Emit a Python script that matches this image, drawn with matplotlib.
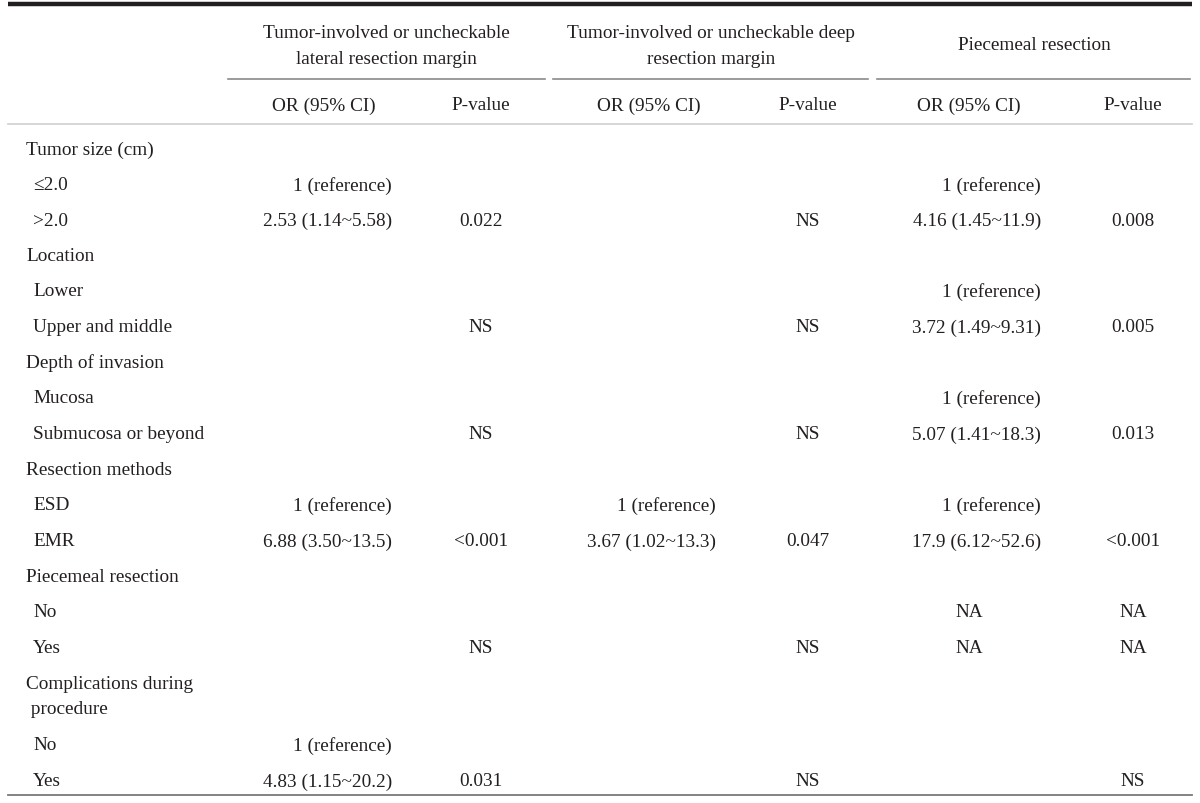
import matplotlib
matplotlib.use("Agg")
import matplotlib.pyplot as plt

plt.rcParams['font.family'] = ['Liberation Serif', 'DejaVu Serif']

group_headers = ["Tumor-involved or uncheckable\nlateral resection margin",
                 "Tumor-involved or uncheckable deep\nresection margin",
                 "Piecemeal resection"]
sub_headers = ["OR (95% CI)", "P-value"] * 3

row_labels = ["Tumor size (cm)", " \u22642.0", " >2.0",
              "Location", " Lower", " Upper and middle",
              "Depth of invasion", " Mucosa", " Submucosa or beyond",
              "Resection methods", " ESD", " EMR",
              "Piecemeal resection", " No", " Yes",
              "Complications during\n procedure", " No", " Yes"]
is_sub = [False, True, True, False, True, True, False, True, True,
          False, True, True, False, True, True, False, True, True]

or_lateral = ["", "1 (reference)", "2.53 (1.14~5.58)", "", "", "", "", "", "",
              "", "1 (reference)", "6.88 (3.50~13.5)", "", "", "", "", "1 (reference)", "4.83 (1.15~20.2)"]
p_lateral = ["", "", "0.022", "", "", "NS", "", "", "NS",
             "", "", "<0.001", "", "", "NS", "", "", "0.031"]
or_deep = ["", "", "", "", "", "", "", "", "",
           "", "1 (reference)", "3.67 (1.02~13.3)", "", "", "", "", "", ""]
p_deep = ["", "", "NS", "", "", "NS", "", "", "NS",
          "", "", "0.047", "", "", "NS", "", "", "NS"]
or_piece = ["", "1 (reference)", "4.16 (1.45~11.9)", "", "1 (reference)", "3.72 (1.49~9.31)",
            "", "1 (reference)", "5.07 (1.41~18.3)", "", "1 (reference)", "17.9 (6.12~52.6)",
            "", "NA", "NA", "", "", ""]
p_piece = ["", "", "0.008", "", "", "0.005", "", "", "0.013",
           "", "", "<0.001", "", "NA", "NA", "", "", "NS"]

W, H = 1200, 804
fig = plt.figure(figsize=(12, 8.04), dpi=100)
ax = fig.add_axes([0, 0, 1, 1])
ax.set_xlim(0, W)
ax.set_ylim(H, 0)
ax.axis('off')

fs = 13.9
tc = '#231f20'
bo = 6.5  # baseline offset from row centre (pixels)


def put(x, y, t, ha):
    ax.text(x, y + bo, t, ha=ha, va='baseline', fontsize=fs, color=tc)


# lines
ax.plot([8, 1192], [5, 5], color='#231f20', lw=3.2, solid_capstyle='butt')
for x0, x1 in [(228, 545), (553, 868), (877, 1190)]:
    ax.plot([x0, x1], [80, 80], color='#8a8a8a', lw=1.2)
ax.plot([8, 1192], [125, 125], color='#d0d0d0', lw=1.2)
ax.plot([8, 1192], [796, 796], color='#7a7a7a', lw=1.3)

# headers
group_cx = [386, 711, 1034]
for cx, t in zip(group_cx, group_headers):
    lines = t.split("\n")
    if len(lines) == 2:
        put(cx, 31, lines[0], 'center')
        put(cx, 57, lines[1], 'center')
    else:
        put(cx, 44, lines[0], 'center')

or_right = [392, 716, 1041]
p_cx = [481, 808, 1133]
or_cx = [324, 649, 969]
sub_x = [324, 481, 649, 808, 969, 1133]
for x, t in zip(sub_x, sub_headers):
    put(x, 104, t, 'center')

row_y = [148, 184, 219, 255, 290, 326, 362, 397, 433, 469, 504, 540, 576, 611, 647, 696, 744, 780]

for y, lab, sub in zip(row_y, row_labels, is_sub):
    x = 33 if sub else 26
    if '\n' in lab:
        l1, l2 = lab.split("\n")
        put(x, y - 13, l1, 'left')
        put(x, y + 12, l2, 'left')
    else:
        put(x, y, lab.strip() if sub else lab, 'left')

cols_or = [or_lateral, or_deep, or_piece]
cols_p = [p_lateral, p_deep, p_piece]
for k in range(3):
    for y, t in zip(row_y, cols_or[k]):
        if not t:
            continue
        if t == "NA":
            put(or_cx[k], y, t, 'center')
        else:
            put(or_right[k], y, t, 'right')
    for y, t in zip(row_y, cols_p[k]):
        if t:
            put(p_cx[k], y, t, 'center')

fig.savefig("out.png", dpi=100, facecolor='white')
